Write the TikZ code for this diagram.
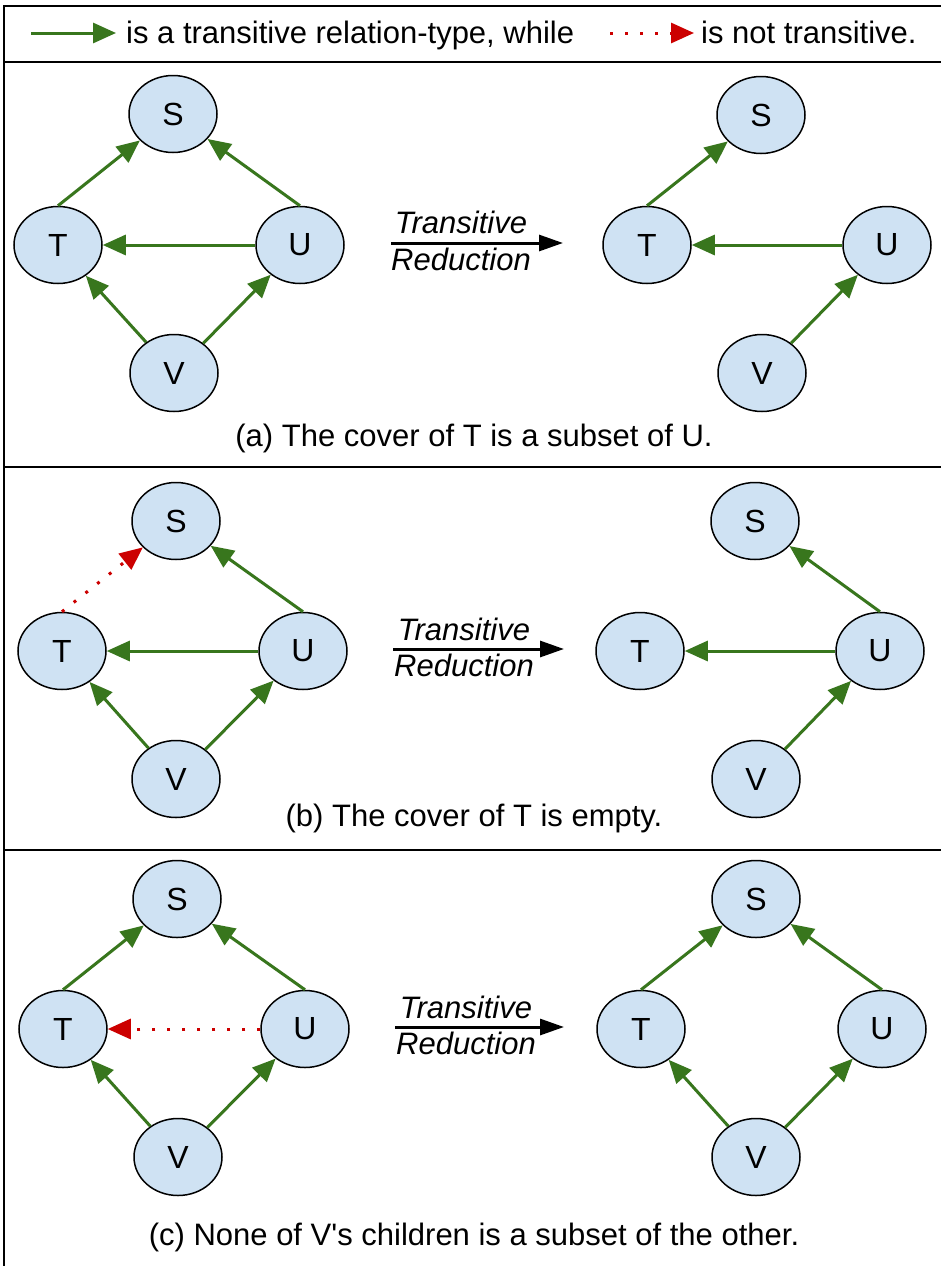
\documentclass[tikz,border=0pt]{standalone}
\usepackage{fontspec}
\setmainfont{Liberation Sans}
\usetikzlibrary{arrows.meta,shapes.geometric}
\definecolor{nodefill}{HTML}{CFE2F3}
\definecolor{grn}{HTML}{38761D}
\definecolor{rd}{HTML}{CC0000}
\begin{document}
\begin{tikzpicture}[x=1pt,y=-1pt,
  vert/.style={ellipse, draw=black, line width=1.5pt, fill=nodefill,
    minimum width=88pt, minimum height=77pt, inner sep=0pt,
    font=\fontsize{32}{38}\selectfont},
  tr/.style={draw=grn, line width=3pt, -{Triangle[length=23pt,width=20pt]}},
  ntr/.style={draw=rd, line width=3pt, dash pattern=on 3pt off 12pt,
    -{Triangle[length=23pt,width=20pt]}},
  redarrow/.style={draw=black, line width=3pt, -{Triangle[length=24pt,width=16pt]}},
  lbl/.style={anchor=base, inner sep=0pt, font=\fontsize{31}{37}\selectfont},
  ilbl/.style={anchor=base, inner sep=0pt, font=\fontsize{31}{37}\selectfont\itshape},
  frame/.style={draw=black, line width=2pt}
]
\useasboundingbox (0,0) rectangle (941,1266);
\fill[white] (0,0) rectangle (941,1266);

% frame
\draw[frame] (4,6) -- (941,6);
\draw[frame] (4,62) -- (941,62);
\draw[frame] (4,467) -- (941,467);
\draw[frame] (4,850) -- (941,850);
\draw[frame] (4,5) -- (4,1266);

% legend
\coordinate (lg1) at (31,33);
\coordinate (lg2) at (116,33);
\draw[tr] (lg1) -- (lg2);
\node[lbl, anchor=base west] (lgt1) at (126,43) {is a transitive relation-type, while};
\coordinate (lr1) at (610,33);
\coordinate (lr2) at (694,33);
\draw[ntr] (lr1) -- (lr2);
\node[lbl, anchor=base west] (lgt2) at (701,43) {is not transitive.};

% ---------- panel (a) ----------
\node[vert] (aS) at (173,114) {S};
\node[vert] (aT) at (58,245) {T};
\node[vert] (aU) at (300,245) {U};
\node[vert] (aV) at (174,373) {V};
\draw[tr] (aT.north) -- (aS);
\draw[tr] (aU.north) -- (aS);
\draw[tr] (aU) -- (aT);
\draw[tr] (aV) -- (aT);
\draw[tr] (aV) -- (aU);

\coordinate (ra1) at (391,243);
\coordinate (ra2) at (563,243);
\draw[redarrow] (ra1) -- (ra2);
\node[ilbl] (rat) at (461,233) {Transitive};
\node[ilbl] (rar) at (461,270) {Reduction};

\node[vert] (aS2) at (761,115) {S};
\node[vert] (aT2) at (647,245) {T};
\node[vert] (aU2) at (887,245) {U};
\node[vert] (aV2) at (762,373) {V};
\draw[tr] (aT2.north) -- (aS2);
\draw[tr] (aU2) -- (aT2);
\draw[tr] (aV2) -- (aU2);

\node[lbl] (capa) at (474,446) {(a) The cover of T is a subset of U.};

% ---------- panel (b) ----------
\node[vert] (bS) at (176,521) {S};
\node[vert] (bT) at (62,651) {T};
\node[vert] (bU) at (303,651) {U};
\node[vert] (bV) at (176,779) {V};
\draw[ntr] (bT.north) -- (bS);
\draw[tr] (bU.north) -- (bS);
\draw[tr] (bU) -- (bT);
\draw[tr] (bV) -- (bT);
\draw[tr] (bV) -- (bU);

\coordinate (rb1) at (393,649);
\coordinate (rb2) at (564,649);
\draw[redarrow] (rb1) -- (rb2);
\node[ilbl] (rbt) at (464,640) {Transitive};
\node[ilbl] (rbr) at (464,676) {Reduction};

\node[vert] (bS2) at (755,521) {S};
\node[vert] (bT2) at (640,651) {T};
\node[vert] (bU2) at (880,651) {U};
\node[vert] (bV2) at (756,779) {V};
\draw[tr] (bU2.north) -- (bS2);
\draw[tr] (bU2) -- (bT2);
\draw[tr] (bV2) -- (bU2);

\node[lbl] (capb) at (474,826) {(b) The cover of T is empty.};

% ---------- panel (c) ----------
\node[vert] (cS) at (177,899) {S};
\node[vert] (cT) at (63,1029) {T};
\node[vert] (cU) at (305,1029) {U};
\node[vert] (cV) at (178,1157) {V};
\draw[tr] (cT.north) -- (cS);
\draw[tr] (cU.north) -- (cS);
\draw[ntr] (cU) -- (cT);
\draw[tr] (cV) -- (cT);
\draw[tr] (cV) -- (cU);

\coordinate (rc1) at (395,1027);
\coordinate (rc2) at (564,1027);
\draw[redarrow] (rc1) -- (rc2);
\node[ilbl] (rct) at (466,1018) {Transitive};
\node[ilbl] (rcr) at (466,1054) {Reduction};

\node[vert] (cS2) at (756,899) {S};
\node[vert] (cT2) at (641,1029) {T};
\node[vert] (cU2) at (882,1029) {U};
\node[vert] (cV2) at (756,1157) {V};
\draw[tr] (cT2.north) -- (cS2);
\draw[tr] (cU2.north) -- (cS2);
\draw[tr] (cV2) -- (cT2);
\draw[tr] (cV2) -- (cU2);

\node[lbl] (capc) at (474,1245) {(c) None of V\textquotesingle s children is a subset of the other.};
\end{tikzpicture}
\end{document}
